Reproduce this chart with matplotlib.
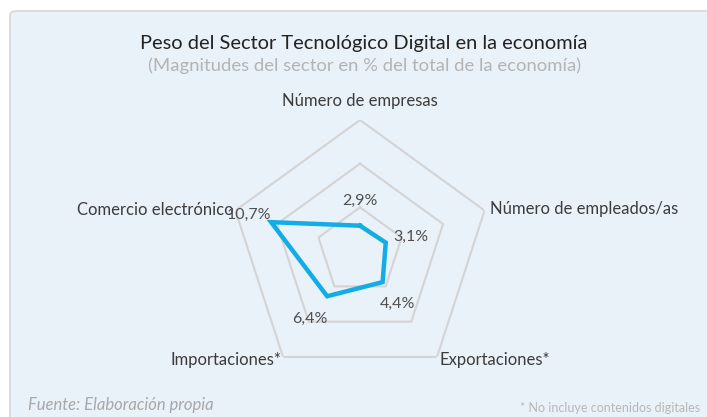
import matplotlib
matplotlib.use("Agg")
import matplotlib.pyplot as plt
import numpy as np
from matplotlib.patches import FancyBboxPatch

plt.rcParams['font.family'] = ['Lato', 'DejaVu Sans']

# data
categories = ["Número de empresas", "Número de empleados/as", "Exportaciones*",
              "Importaciones*", "Comercio electrónico"]
values = [2.9, 3.1, 4.4, 6.4, 10.7]
value_labels = ["2,9%", "3,1%", "4,4%", "6,4%", "10,7%"]
rings = [5, 10, 15]

bg = "#e9f1f9"
line_col = "#12ace6"
grid_col = "#d4d4d4"
text_col = "#3c3c3c"

fig = plt.figure(figsize=(7.07, 4.17), dpi=100)
fig.patch.set_facecolor("white")

# panel background with border on top/left
panel = FancyBboxPatch((10 / 707, -0.05), 1.0, 1.05 - 11 / 417,
                       boxstyle="round,pad=0,rounding_size=0.01",
                       transform=fig.transFigure, facecolor=bg,
                       edgecolor="#d9d9d9", linewidth=1.3, zorder=-1)
fig.patches.append(panel)

ax = fig.add_axes([0.3239, 0.0839, 0.3706, 0.6283], projection="polar")
ax.set_facecolor("none")
ax.set_theta_offset(np.pi / 2)
ax.set_theta_direction(-1)
ax.set_ylim(0, 15)
ax.grid(False)
ax.spines["polar"].set_visible(False)
ax.set_xticks([])
ax.set_yticks([])

n = len(categories)
angles = np.linspace(0, 2 * np.pi, n, endpoint=False)
closed = np.concatenate([angles, angles[:1]])

for r in rings:
    ax.plot(closed, [r] * (n + 1), color=grid_col, lw=1.5, zorder=1)

vals = values + values[:1]
ax.plot(closed, vals, color=line_col, lw=3.2, solid_joinstyle="miter", zorder=3)

# category labels
label_pos = [(16.3, "center", "bottom"), (15.6, "left", "center"),
             (15.4, "left", "center"), (15.4, "right", "center"),
             (15.2, "right", "center")]
for a, cat, (r, ha, va) in zip(angles, categories, label_pos):
    ax.text(a, r, cat, ha=ha, va=va, fontsize=12, color=text_col, clip_on=False)

# value labels
offsets = [(0, 25), (25, 6), (15, -22), (-17, -23), (-22, 7)]
for a, v, lab, off in zip(angles, values, value_labels, offsets):
    ax.annotate(lab, (a, v), xytext=off, textcoords="offset pixels",
                ha="center", va="center", fontsize=11.5, color="#505050",
                annotation_clip=False)

fig.text(364 / 707, 1 - 44 / 417, "Peso del Sector Tecnológico Digital en la economía",
         ha="center", va="center", fontsize=14.4, color="#222222")
fig.text(365 / 707, 1 - 66 / 417, "(Magnitudes del sector en % del total de la economía)",
         ha="center", va="center", fontsize=13.3, color="#b4b4b4")
fig.text(28 / 707, 1 - 405 / 417, "Fuente: Elaboración propia", ha="left", va="center",
         fontsize=12, color="#a8a8a8", style="italic")
fig.text(700 / 707, 1 - 408 / 417, "* No incluye contenidos digitales", ha="right",
         va="center", fontsize=9, color="#b8b8b8")

fig.savefig("out.png", dpi=100, facecolor=fig.get_facecolor())
